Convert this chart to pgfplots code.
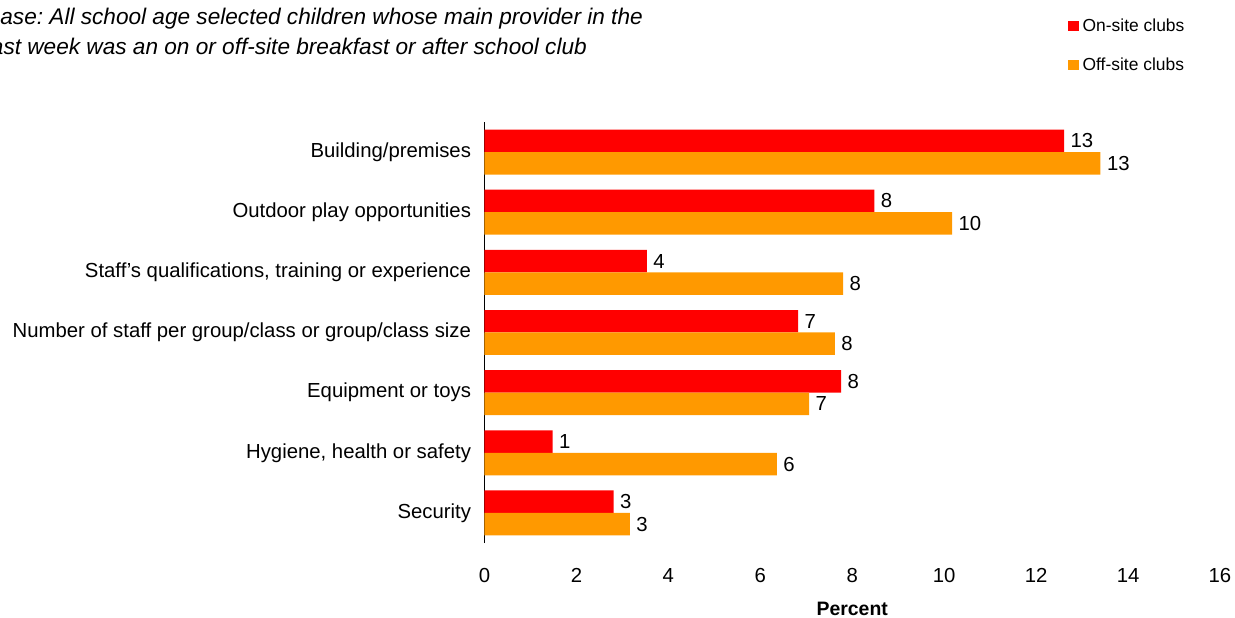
\documentclass[border=0pt]{standalone}
\usepackage{fontspec}
\setmainfont{Liberation Sans}
\usepackage{pgfplots}
\pgfplotsset{compat=1.18}
\definecolor{onsite}{HTML}{FF0000}
\definecolor{offsite}{HTML}{FF9900}
\begin{document}
\frenchspacing
\begin{tikzpicture}
\path[use as bounding box] (-484.5bp,-75bp) rectangle (750.5bp,543bp);
\begin{axis}[
  scale only axis,
  width=735.5bp, height=421bp,
  xbar,
  xmin=0, xmax=16,
  ymin=-0.5, ymax=6.5,
  xtick={0,2,...,16},
  ytick={0,...,6},
  yticklabels={Security, {Hygiene, health or safety}, Equipment or toys,
    Number of staff per group/class or group/class size,
    {Staff's qualifications, training or experience},
    Outdoor play opportunities, Building/premises},
  axis y line*=left,
  axis x line*=bottom,
  x axis line style={draw=none},
  y axis line style={black, line width=0.8bp},
  major tick length=0pt,
  tick label style={font=\fontsize{20.4}{22}\selectfont},
  /pgf/number format/assume math mode=true,
  xticklabel style={yshift=-22bp},
  yticklabel style={xshift=-10bp},
  bar width=0.374,
  nodes near coords,
  nodes near coords style={font=\fontsize{20.4}{22}\selectfont, anchor=west, xshift=3bp,
    text=black, /pgf/number format/.cd, fixed, precision=0},
  xlabel={\textbf{Percent}},
  xlabel style={font=\fontsize{19.5}{21}\selectfont, yshift=-12.5bp},
  legend style={draw=none, fill=none, at={(0.793,1.25)}, anchor=north west,
    font=\fontsize{17.5}{20}\selectfont, row sep=21bp, inner sep=0pt,
    nodes={inner xsep=4bp}},
  legend cell align=left,
  legend image code/.code={\fill[#1,draw=none] (0bp,-5.3bp) rectangle (10.7bp,5.3bp);},
  clip=false,
]
\addplot[draw=none, fill=onsite, bar shift=0.187] coordinates {
  (12.61,6) (8.48,5) (3.53,4) (6.82,3) (7.76,2) (1.48,1) (2.81,0)
};
\addplot[draw=none, fill=offsite, bar shift=-0.187] coordinates {
  (13.40,6) (10.17,5) (7.80,4) (7.62,3) (7.06,2) (6.36,1) (3.16,0)
};
\legend{On-site clubs, Off-site clubs}
\end{axis}
\node[anchor=base east, font=\fontsize{22.7}{25}\selectfont\itshape, inner sep=0pt]
  at (643bp-484.5bp, 543bp-25bp) {Base: All school age selected children whose main provider in the};
\node[anchor=base east, font=\fontsize{22.7}{25}\selectfont\itshape, inner sep=0pt]
  at (587bp-484.5bp, 543bp-55bp) {last week was an on or off-site breakfast or after school club};
\end{tikzpicture}
\end{document}
